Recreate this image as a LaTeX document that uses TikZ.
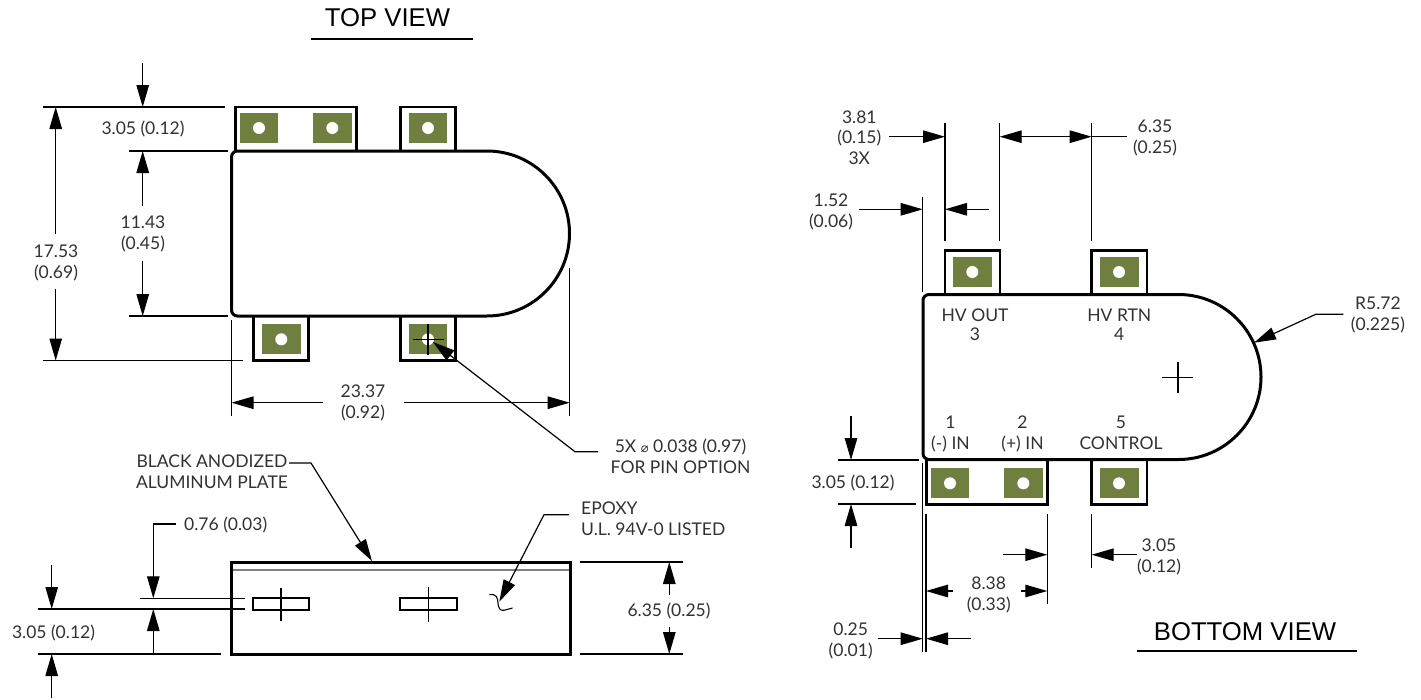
\documentclass[tikz,border=0pt]{standalone}
\usepackage{fontspec}
\setmainfont{Lato}
\newfontfamily\titlefont{Liberation Sans}
\newfontfamily\symfont{DejaVu Sans}
\usetikzlibrary{arrows.meta}
\definecolor{padgreen}{RGB}{110,127,64}
\definecolor{txtgray}{RGB}{50,50,50}
\tikzset{
  outline/.style={line width=3pt,line join=round},
  tabline/.style={line width=2.7pt,line join=miter},
  dimline/.style={line width=1.2pt},
  extline/.style={line width=1.1pt},
  tipped/.style={dimline,-{Triangle[length=22pt,width=12.5pt]}},
  dbltip/.style={dimline,{Triangle[length=22pt,width=12.5pt]}-{Triangle[length=22pt,width=12.5pt]}},
  txt/.style={font=\fontsize{17.5}{20.8}\selectfont,text=txtgray,align=center,inner sep=0pt,yshift=-2pt},
  tighttxt/.style={font=\fontsize{17.5}{18.6}\selectfont,text=txtgray,align=center,inner sep=0pt,yshift=-2pt},
  lefttxt/.style={txt,align=left,anchor=west},
  titletxt/.style={font=\titlefont\fontsize{25.7}{28}\selectfont,text=black,inner sep=0pt},
  padbox/.style={fill=padgreen,draw=none},
  holedot/.style={fill=white,draw=none}
}
\newcommand{\padhole}[6]{%
  \fill[padbox] (#1,#2) rectangle (#3,#4);
  \fill[holedot] (#5,#6) circle[radius=6];
}
\newcommand{\bodyshape}{%
  \draw[outline,fill=white] (6,0) -- (255.5,0)
    .. controls (301,0) and (338,37) .. (338,82.5)
    .. controls (338,128) and (301,165) .. (255.5,165)
    -- (6,165) .. controls (2.7,165) and (0,162.3) .. (0,159)
    -- (0,6) .. controls (0,2.7) and (2.7,0) .. (6,0) -- cycle;
}
\begin{document}
\begin{tikzpicture}[x=1pt,y=-1pt]
\useasboundingbox (0,0) rectangle (1421,699);
\fill[white] (0,0) rectangle (1421,699);

% ---------- TOP VIEW ----------
\node[titletxt] (toptitle) at (387.5,18) {TOP VIEW};
\draw[extline] (311,39) -- (473,39);

\draw[tabline] (235.5,151) -- (235.5,107) -- (356.7,107) -- (356.7,151);
\draw[tabline] (400.5,151) -- (400.5,107) -- (455.7,107) -- (455.7,151);
\draw[tabline] (253.5,316) -- (253.5,360.5) -- (308.7,360.5) -- (308.7,316);
\draw[tabline] (400.5,316) -- (400.5,360.5) -- (455.7,360.5) -- (455.7,316);
\begin{scope}[shift={(231.5,151)}]\bodyshape\end{scope}
\padhole{240}{113.3}{278.3}{142.7}{259}{128}
\padhole{313.3}{113.3}{352}{142.7}{332.3}{128}
\padhole{409}{113.3}{447.3}{142.7}{428}{128}
\padhole{262}{324.3}{300.7}{353.7}{281.3}{339.3}
\padhole{409}{324.3}{447.3}{353.7}{428}{339.3}
\draw[extline] (428,324) -- (428,354.5) (413,339.3) -- (443.5,339.3);

\draw[extline] (42.7,107) -- (225,107);
\draw[extline] (129,151) -- (228.3,151);
\draw[extline] (129,316) -- (228.3,316);
\draw[extline] (42.7,360.5) -- (243,360.5);
\draw[extline] (231.5,320) -- (231.5,416);
\draw[extline] (569.7,268) -- (569.7,416);

\coordinate (a1s) at (142.7,62.7); \coordinate (a1e) at (142.7,107);
\draw[tipped] (a1s) -- (a1e);
\node[txt] (d305top) at (143,128.5) {\strut 3.05 (0.12)};
\coordinate (a2s) at (142.7,206); \coordinate (a2e) at (142.7,151);
\draw[tipped] (a2s) -- (a2e);
\coordinate (a3s) at (142.7,260.7); \coordinate (a3e) at (142.7,316);
\draw[tipped] (a3s) -- (a3e);
\node[txt] (d1143) at (143,232.5) {\strut 11.43\\\strut (0.45)};
\coordinate (a4s) at (55.7,234); \coordinate (a4e) at (55.7,107);
\draw[tipped] (a4s) -- (a4e);
\coordinate (a5s) at (55.7,288.7); \coordinate (a5e) at (55.7,360.5);
\draw[tipped] (a5s) -- (a5e);
\node[txt] (d1753) at (56,261.5) {\strut 17.53\\\strut (0.69)};
\coordinate (a6s) at (322.7,402.7); \coordinate (a6e) at (231.5,402.7);
\draw[tipped] (a6s) -- (a6e);
\coordinate (a7s) at (404,402.7); \coordinate (a7e) at (569.7,402.7);
\draw[tipped] (a7s) -- (a7e);
\node[txt] (d2337) at (363,401.5) {\strut 23.37\\\strut (0.92)};

\coordinate (l1a) at (598,451.7); \coordinate (l1b) at (575,451.7); \coordinate (l1c) at (433,342);
\draw[tipped] (l1a) -- (l1b) -- (l1c);
\node[txt] (pinnote) at (680.5,457) {\strut 5X {\symfont\fontsize{13}{13}\selectfont ⌀} 0.038 (0.97)\\\strut FOR PIN OPTION};

% ---------- SIDE VIEW ----------
\draw[outline,line join=miter] (231.5,562) rectangle (570,654);
\draw[dimline,gray] (233,570) -- (568.5,570);
\draw[tabline,line width=2pt] (253.3,598.3) rectangle (309.3,609.7);
\draw[tabline,line width=2pt] (400,598.3) rectangle (456.5,609.7);
\draw[extline] (281,588) -- (281,621);
\draw[extline] (428.3,587) -- (428.3,621.5);
\draw[extline] (489.3,594.7) .. controls (497,593.5) and (497.5,598) .. (498,603)
  .. controls (498.3,608) and (500,611) .. (504,610.3) -- (512.6,608);

\node[txt] (plate) at (212,472) {\strut BLACK ANODIZED\\\strut ALUMINUM PLATE};
\coordinate (l2a) at (289,463); \coordinate (l2b) at (311,463); \coordinate (l2c) at (372,561);
\draw[tipped] (l2a) -- (l2b) -- (l2c);
\node[lefttxt] (epoxy) at (581,518.5) {\strut EPOXY\\\strut U.L. 94V-0 LISTED};
\coordinate (l3a) at (569,514.7); \coordinate (l3b) at (544,514.7); \coordinate (l3c) at (499.3,601.7);
\draw[tipped] (l3a) -- (l3b) -- (l3c);

\draw[extline] (140,598.3) -- (245,598.3);
\draw[extline] (38.3,609) -- (245,609);
\draw[extline] (38.3,654) -- (221,654);
\draw[extline] (580,562) -- (682.7,562);
\draw[extline] (580,654) -- (682.7,654);

\node[lefttxt] (d076) at (184,524) {\strut 0.76 (0.03)};
\coordinate (l4a) at (176,524); \coordinate (l4b) at (153.3,524); \coordinate (l4c) at (153.3,598.3);
\draw[tipped] (l4a) -- (l4b) -- (l4c);
\coordinate (a8s) at (153.3,654); \coordinate (a8e) at (153.3,609);
\draw[tipped] (a8s) -- (a8e);
\coordinate (a9s) at (51.7,564.7); \coordinate (a9e) at (51.7,609);
\draw[tipped] (a9s) -- (a9e);
\coordinate (a10s) at (51.7,698); \coordinate (a10e) at (51.7,654);
\draw[tipped] (a10s) -- (a10e);
\node[txt] (d305side) at (53.5,632.3) {\strut 3.05 (0.12)};
\coordinate (a11s) at (669.3,595); \coordinate (a11e) at (669.3,562);
\draw[tipped] (a11s) -- (a11e);
\coordinate (a12s) at (669.3,627); \coordinate (a12e) at (669.3,654);
\draw[tipped] (a12s) -- (a12e);
\node[txt] (d635side) at (669,610.7) {\strut 6.35 (0.25)};

% ---------- BOTTOM VIEW ----------
\node[titletxt] (bottitle) at (1245,632) {BOTTOM VIEW};
\draw[extline] (1137,651) -- (1357,651);

\draw[tabline] (945,294.5) -- (945,250.7) -- (1000,250.7) -- (1000,294.5);
\draw[tabline] (1091.7,294.5) -- (1091.7,250.7) -- (1147,250.7) -- (1147,294.5);
\draw[tabline] (926.5,459.5) -- (926.5,504.3) -- (1047.7,504.3) -- (1047.7,459.5);
\draw[tabline] (1091.7,459.5) -- (1091.7,504.3) -- (1147,504.3) -- (1147,459.5);
\begin{scope}[shift={(923,294.5)}]\bodyshape\end{scope}
\padhole{953}{257}{992}{286.7}{972.3}{272}
\padhole{1100}{257}{1138.7}{286.7}{1119}{272}
\padhole{931}{468.3}{969.3}{497.7}{950}{483.3}
\padhole{1004.3}{468.3}{1043}{497.7}{1023.3}{483.3}
\padhole{1100}{468.3}{1138.7}{497.7}{1119}{483.3}
\draw[extline] (1162.3,377.3) -- (1193.3,377.3) (1178,362.3) -- (1178,392.7);

\node[tighttxt] (hvout) at (975,325) {\strut HV OUT\\\strut 3};
\node[tighttxt] (hvrtn) at (1119.3,325) {\strut HV RTN\\\strut 4};
\node[txt] (pin1) at (950.5,433) {\strut 1\\\strut (-) IN};
\node[txt] (pin2) at (1022.5,433) {\strut 2\\\strut (+) IN};
\node[txt] (pin5) at (1121,433) {\strut 5\\\strut CONTROL};

\draw[extline] (945,123.3) -- (945,240.7);
\draw[extline] (999.7,123.3) -- (999.7,240.7);
\draw[extline] (1091.7,123.3) -- (1091.7,240.7);
\draw[extline] (922.7,196.7) -- (922.7,291.7);
\draw[extline] (838.3,460) -- (919.3,460);
\draw[extline] (838.3,504) -- (916,504);
\draw[extline] (922.7,463.3) -- (922.7,652.3);
\draw[extline] (926,514.3) -- (926,652.3);
\draw[extline] (1047.3,514.3) -- (1047.3,604);
\draw[extline] (1091.7,514.3) -- (1091.7,568.3);

\coordinate (b1s) at (889,136.7); \coordinate (b1e) at (945,136.7);
\draw[tipped] (b1s) -- (b1e);
\node[txt] (d381) at (859.3,137.7) {\strut 3.81\\\strut (0.15)\\\strut 3X};
\coordinate (b2s) at (999.7,136.7); \coordinate (b2e) at (1091.7,136.7);
\draw[dbltip] (b2s) -- (b2e);
\coordinate (b3e) at (1126.7,136.7);
\draw[dimline] (b2e) -- (b3e);
\node[txt] (d635) at (1155,136.5) {\strut 6.35\\\strut (0.25)};
\coordinate (b4s) at (859,209.3); \coordinate (b4e) at (922.7,209.3);
\draw[tipped] (b4s) -- (b4e);
\coordinate (b5s) at (989.3,209.3); \coordinate (b5e) at (945,209.3);
\draw[tipped] (b5s) -- (b5e);
\node[txt] (d152) at (831,211) {\strut 1.52\\\strut (0.06)};

\coordinate (b6s) at (851,415.7); \coordinate (b6e) at (851,460);
\draw[tipped] (b6s) -- (b6e);
\coordinate (b7s) at (851,548.3); \coordinate (b7e) at (851,504);
\draw[tipped] (b7s) -- (b7e);
\node[txt] (d305bot) at (853,482.7) {\strut 3.05 (0.12)};

\coordinate (b8s) at (1002.7,554.7); \coordinate (b8e) at (1047.3,554.7);
\draw[tipped] (b8s) -- (b8e);
\coordinate (b9s) at (952.7,591); \coordinate (b9e) at (926,591);
\draw[tipped] (b9s) -- (b9e);
\coordinate (b10s) at (1021,591); \coordinate (b10e) at (1047.3,591);
\draw[tipped] (b10s) -- (b10e);
\node[txt] (d838) at (988.7,593.5) {\strut 8.38\\\strut (0.33)};
\coordinate (b11s) at (1136.7,554.7); \coordinate (b11e) at (1091.7,554.7);
\draw[tipped] (b11s) -- (b11e);
\node[txt] (d305c) at (1159,555.5) {\strut 3.05\\\strut (0.12)};
\coordinate (b12s) at (877.7,638.7); \coordinate (b12e) at (922.7,638.7);
\draw[tipped] (b12s) -- (b12e);
\coordinate (b13s) at (971,638.7); \coordinate (b13e) at (926,638.7);
\draw[tipped] (b13s) -- (b13e);
\node[txt] (d025) at (850.7,639.7) {\strut 0.25\\\strut (0.01)};

\coordinate (l5a) at (1343.3,314.3); \coordinate (l5b) at (1315.7,314.3); \coordinate (l5c) at (1254,342.7);
\draw[tipped] (l5a) -- (l5b) -- (l5c);
\node[txt] (r572) at (1378,313.5) {\strut R5.72\\\strut (0.225)};
\end{tikzpicture}
\end{document}
